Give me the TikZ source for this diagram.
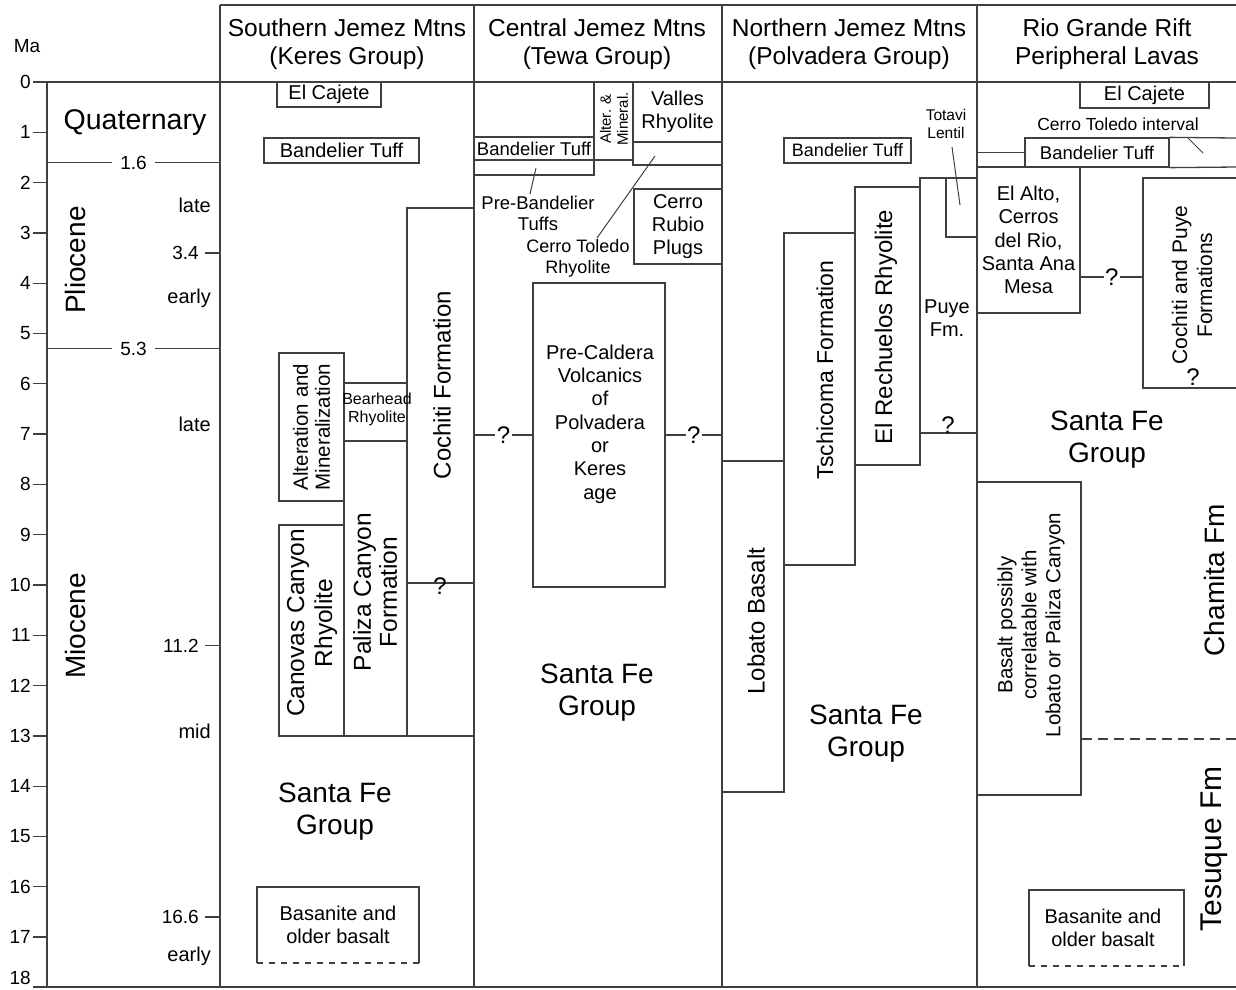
\documentclass[tikz,border=0pt]{standalone}
\usepackage{fontspec}
\setmainfont{Liberation Sans}
\begin{document}
\begin{tikzpicture}[x=1pt, y=-1pt,
            frame/.style={draw=black!75, line width=1.3pt},
            unit/.style={draw=black!75, line width=1.3pt, rectangle, inner sep=0pt, align=center, font=\fontsize{20}{23}\selectfont},
            txt/.style={inner sep=0pt, align=center, font=\fontsize{20}{23}\selectfont},
            sml/.style={inner sep=0pt, align=center, font=\fontsize{15.5}{18}\selectfont},
            vtxt/.style={inner sep=0pt, align=center, rotate=90, font=\fontsize{24}{28}\selectfont},
            hdr/.style={inner sep=0pt, align=center, font=\fontsize{24.5}{28}\selectfont},
            big/.style={inner sep=0pt, align=center, font=\fontsize{28}{32}\selectfont},
            num/.style={inner sep=0pt, font=\fontsize{19}{22}\selectfont},
            qm/.style={inner sep=1.5pt, font=\fontsize{24}{26}\selectfont}]
            \useasboundingbox (0,0) rectangle (1236,989);

            % frame and columns
            \draw[frame] (220,5) -- (1236,5);
            \draw[frame] (33,82) -- (1236,82);
            \draw[frame] (33,987) -- (1236,987);
            \draw[frame] (47,82) -- (47,987);
            \foreach \x in {220,474,722,977} \draw[frame] (\x,5) -- (\x,987);

            \node[hdr] (hdrS) at (347,44) {Southern Jemez Mtns\\(Keres Group)};
            \node[hdr] (hdrC) at (597,44) {Central Jemez Mtns\\(Tewa Group)};
            \node[hdr] (hdrN) at (849,44) {Northern Jemez Mtns\\(Polvadera Group)};
            \node[hdr] (hdrR) at (1107,44) {Rio Grande Rift\\Peripheral Lavas};

            % time scale
            \node[num] (ma) at (27,46) {Ma};
            \foreach \t in {0,...,18}
                \node[num, anchor=east] (tick\t) at (31,{min(82+50.3*\t,978)}) {\t};
            \foreach \t in {1,...,18}
                \draw[frame] (33,{82+50.3*\t}) -- (47,{82+50.3*\t});
            \foreach \v in {3.4,11.2,16.6}{
                \draw[frame] (205,{82+50.3*\v}) -- (220,{82+50.3*\v});
                \node[num, anchor=east] (st\v) at (199,{82+50.3*\v}) {\v};
            }
            \draw[frame] (47,162.5) -- (220,162.5) node[num, midway, fill=white, inner xsep=8pt] (ep16) {1.6};
            \draw[frame] (47,348.6) -- (220,348.6) node[num, midway, fill=white, inner xsep=8pt] (ep53) {5.3};
            \node[inner sep=0pt, font=\fontsize{28.5}{32}\selectfont] (quat) at (135,122) {Quaternary};
            \node[vtxt, font=\fontsize{28}{32}\selectfont] (plio) at (75,260) {Pliocene};
            \node[vtxt, font=\fontsize{28}{32}\selectfont] (mio) at (75,626) {Miocene};
            \node[txt, anchor=east] (lateP) at (211,205) {late};
            \node[txt, anchor=east] (earlyP) at (211,298) {early};
            \node[txt, anchor=east] (lateM) at (211,424) {late};
            \node[txt, anchor=east] (midM) at (211,731) {mid};
            \node[txt, anchor=east] (earlyM) at (211,956) {early};

            % Southern Jemez
            \node[unit, minimum width=104pt, minimum height=25pt] (cajeteS) at (329,94.5) {El Cajete};
            \node[unit, minimum width=155pt, minimum height=25pt] (bandS) at (341.5,150.5) {Bandelier Tuff};
            \node[unit, minimum width=67pt, minimum height=528pt] (cochiti) at (440.5,472) {};
            \node[vtxt] (cochitiT) at (442,385) {Cochiti Formation};
            \draw[frame] (cochiti.west |- 0,583) -- (cochiti.east |- 0,583);
            \node[qm, inner sep=0pt] (qS) at (440,586) {?};
            \node[unit, minimum width=65pt, minimum height=148pt] (alterS) at (311.5,427) {};
            \node[vtxt, font=\fontsize{20.5}{22}\selectfont] (alterST) at (alterS) {Alteration and\\Mineralization};
            \node[unit, minimum width=63pt, minimum height=58pt] (bearhead) at (375.5,412) {};
            \node[sml, font=\fontsize{16}{18}\selectfont] (bearheadT) at (377,409) {Bearhead\\Rhyolite};
            \node[unit, minimum width=63pt, minimum height=295pt] (paliza) at (375.5,588.5) {};
            \node[vtxt, font=\fontsize{24.5}{26}\selectfont] (palizaT) at (375,592) {Paliza Canyon\\Formation};
            \node[unit, minimum width=65pt, minimum height=211pt] (canovas) at (311.5,630.5) {};
            \node[vtxt, font=\fontsize{24.5}{28}\selectfont] (canovasT) at (312,623) {Canovas Canyon\\Rhyolite};
            \node[big] (sfS) at (335,812) {Santa Fe\\Group};
            \draw[frame] (257,963) -- (257,887) -- (419,887) -- (419,963);
            \draw[frame, dash pattern=on 6pt off 6pt] (257,963) -- (419,963);
            \node[txt] (basS) at (338,925) {Basanite and\\older basalt};

            % Central Jemez
            \node[unit, minimum width=120pt, minimum height=23pt, font=\fontsize{18.5}{20}\selectfont] (bandC) at (534,148.5) {Bandelier Tuff};
            \node[unit, minimum width=120pt, minimum height=15pt] (prebandC) at (534,167.5) {};
            \node[unit, minimum width=39pt, minimum height=78pt] (alterC) at (613.5,121) {};
            \node[sml, rotate=90, font=\fontsize{15}{17}\selectfont] (alterCT) at (614,119) {Alter. \&\\Mineral.};
            \node[unit, minimum width=89pt, minimum height=60pt] (valles) at (677.5,112) {Valles\\Rhyolite};
            \node[unit, minimum width=89pt, minimum height=23pt] (toledoC) at (677.5,153.5) {};
            \node[unit, minimum width=88pt, minimum height=75pt] (rubio) at (678,226.5) {Cerro\\Rubio\\Plugs};
            \node[txt, font=\fontsize{18.5}{21}\selectfont] (prebandT) at (538,213) {Pre-Bandelier\\Tuffs};
            \node[txt, font=\fontsize{18}{21}\selectfont] (toledoT) at (578,258) {Cerro Toledo\\Rhyolite};
            \coordinate (prebandA) at (536,168);
            \coordinate (prebandB) at (530,194);
            \draw[frame, line width=1pt] (prebandA) -- (prebandB);
            \coordinate (toledoA) at (655,156);
            \coordinate (toledoB) at (597,238);
            \draw[frame, line width=1pt] (toledoA) -- (toledoB);
            \node[unit, minimum width=132pt, minimum height=304pt] (precal) at (599,435) {};
            \node[txt, font=\fontsize{20}{23.3}\selectfont] (precalT) at (600,424) {Pre-Caldera\\Volcanics\\of\\Polvadera\\or\\Keres\\age};
            \draw[frame] (cochiti.east |- precal.west) -- (precal.west) node[qm, midway, fill=white] (qC1) {?};
            \draw[frame] (precal.east) -- (722,435) node[qm, midway, fill=white] (qC2) {?};
            \node[big] (sfC) at (597,693) {Santa Fe\\Group};

            % Northern Jemez
            \node[unit, minimum width=127pt, minimum height=25pt, font=\fontsize{18}{20}\selectfont] (bandN) at (847.5,150.5) {Bandelier Tuff};
            \node[sml] (totaviT) at (946,124) {Totavi\\Lentil};
            \node[unit, minimum width=57pt, minimum height=255pt] (puye) at (948.5,305.5) {};
            \node[unit, minimum width=31pt, minimum height=59pt] (totavi) at (961.5,207.5) {};
            \coordinate (totaviA) at (952,147);
            \coordinate (totaviB) at (960,205);
            \draw[frame, line width=1pt] (totaviA) -- (totaviB);
            \node[txt] (puyeT) at (947,318) {Puye\\Fm.};
            \node[qm, inner sep=0pt] (qN) at (948,425) {?};
            \node[unit, minimum width=65pt, minimum height=278pt] (rechuelos) at (887.5,326) {};
            \node[vtxt] (rechuelosT) at (886,327) {El Rechuelos Rhyolite};
            \node[unit, minimum width=71pt, minimum height=332pt] (tschicoma) at (819.5,399) {};
            \node[vtxt, font=\fontsize{23}{28}\selectfont] (tschicomaT) at (825,370) {Tschicoma Formation};
            \node[unit, minimum width=62pt, minimum height=331pt] (lobato) at (753,626.5) {};
            \node[vtxt] (lobatoT) at (756,621) {Lobato Basalt};
            \node[big] (sfN) at (866,734) {Santa Fe\\Group};

            % Rio Grande Rift
            \node[unit, minimum width=129pt, minimum height=26pt] (cajeteR) at (1144.5,95) {El Cajete};
            \node[txt, font=\fontsize{17.5}{20}\selectfont] (toledoR) at (1118,124) {Cerro Toledo interval};
            \node[unit, minimum width=144pt, minimum height=29pt, font=\fontsize{18.5}{20}\selectfont] (bandR) at (1097,152.5) {Bandelier Tuff};
            \draw[frame] (bandR.north east) -- (1236,138);
            \draw[frame] (bandR.south east) -- (1236,167);
            \draw[frame] (977,152.5) -- (bandR.west);
            \coordinate (toledoRA) at (1188,138);
            \coordinate (toledoRB) at (1203,153);
            \draw[frame, line width=1pt] (toledoRA) -- (toledoRB);
            \node[unit, minimum width=103pt, minimum height=146pt, font=\fontsize{20}{23.3}\selectfont] (alto) at (1028.5,240) {El Alto,\\Cerros\\del Rio,\\Santa Ana\\Mesa};
            \draw[frame] (1236,178) -- (1143,178) -- (1143,388) -- (1236,388);
            \coordinate (cpW) at (1143,277);
            \node[vtxt, font=\fontsize{21}{25}\selectfont] (cpT) at (1192,285) {Cochiti and Puye\\Formations};
            \draw[frame] (alto.east |- cpW) -- (cpW) node[qm, midway, fill=white] (qR1) {?};
            \node[qm, inner sep=0pt] (qR2) at (1193,377) {?};
            \node[big] (sfR) at (1107,440) {Santa Fe\\Group};
            \node[unit, minimum width=104pt, minimum height=313pt] (basalt) at (1029,638.5) {};
            \node[vtxt, font=\fontsize{20.5}{24}\selectfont] (basaltT) at (1031,625) {Basalt possibly\\correlatable with\\Lobato or Paliza Canyon};
            \draw[frame, dash pattern=on 10pt off 6pt] (basalt.east |- 0,739) -- (1236,739);
            \node[vtxt, font=\fontsize{28}{32}\selectfont] (chamita) at (1214,580) {Chamita Fm};
            \node[vtxt, font=\fontsize{30}{32}\selectfont] (tesuque) at (1214,849) {Tesuque Fm};
            \draw[frame] (1029,966) -- (1029,890) -- (1184,890) -- (1184,966);
            \draw[frame, dash pattern=on 6pt off 6pt] (1029,966) -- (1184,966);
            \node[txt] (basR) at (1103,928) {Basanite and\\older basalt};
        \end{tikzpicture}
\end{document}
